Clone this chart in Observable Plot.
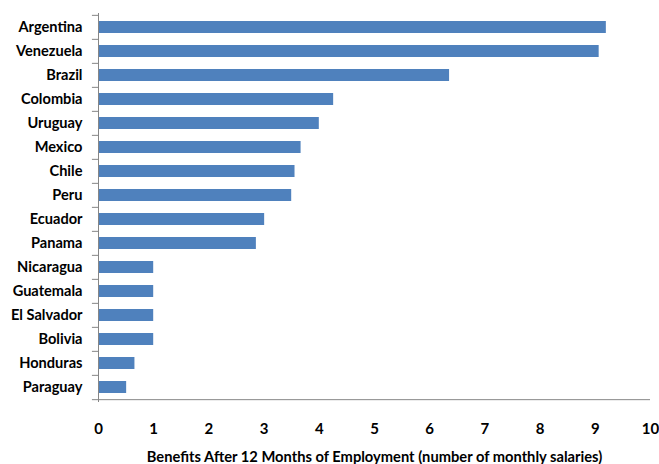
<!DOCTYPE html>
<html>
<head>
<meta charset="utf-8">
<script src="https://cdn.jsdelivr.net/npm/d3@7"></script>
<script src="https://cdn.jsdelivr.net/npm/@observablehq/plot@0.6"></script>
<style>
  html, body { margin: 0; padding: 0; background: #fff; }
  #chart svg { display: block; }
</style>
</head>
<body>
<div id="chart"></div>
<script>
// Countries, top to bottom
const countries = [
  "Argentina", "Venezuela", "Brazil", "Colombia", "Uruguay", "Mexico",
  "Chile", "Peru", "Ecuador", "Panama", "Nicaragua", "Guatemala",
  "El Salvador", "Bolivia", "Honduras", "Paraguay"
];
// Benefits after 12 months of employment, in monthly salaries
const benefits = [
  9.2, 9.07, 6.36, 4.26, 4.0, 3.67,
  3.56, 3.5, 3.01, 2.86, 1.0, 1.0,
  1.0, 1.0, 0.66, 0.51
];
const xTicks = [0, 1, 2, 3, 4, 5, 6, 7, 8, 9, 10];
const xLabel = "Benefits After 12 Months of Employment (number of monthly salaries)";

const data = countries.map((c, i) => ({country: c, value: benefits[i]}));

const W = 659, H = 464;
const mt = 13, mb = 62, ml = 98, mr = 9;
const step = (H - mt - mb) / countries.length;
const axisColor = "#868686";
const font = "Lato, 'Liberation Sans', Arial, sans-serif";

const chart = Plot.plot({
  width: W,
  height: H,
  marginTop: mt,
  marginBottom: mb,
  marginLeft: ml,
  marginRight: mr,
  style: {fontFamily: font, fontWeight: "bold", fontSize: "14px", color: "#000", background: "#fff"},
  x: {domain: [0, 10], ticks: xTicks, label: null},
  y: {domain: countries, paddingInner: 0.49, paddingOuter: 0.245, label: null},
  marks: [
    Plot.barX(data, {x: "value", y: "country", fill: "#4F81BD"}),
    // value axis
    Plot.ruleY([0], {y: () => countries[countries.length - 1], x1: 0, x2: 10, dy: step / 2, stroke: axisColor}),
    Plot.ruleX(xTicks, {x: d => d, y: () => countries[countries.length - 1], dy: step / 2 + 2.5, inset: 0, stroke: axisColor}),
    Plot.axisX({ticks: xTicks, tickSize: 0, tickPadding: 21, fontSize: 15, fontWeight: "bold", label: null, anchor: "bottom"}),
    // category axis with ticks at band boundaries
    Plot.ruleX([0], {stroke: axisColor}),
    Plot.ruleY(countries, {y: d => d, x1: 0, x2: -0.11, dy: -step / 2, stroke: axisColor}),
    Plot.ruleY([countries[countries.length - 1]], {y: d => d, x1: 0, x2: -0.11, dy: step / 2, stroke: axisColor}),
    Plot.axisY({tickSize: 0, tickPadding: 16, fontSize: 14.6, fontWeight: "bold", label: null}),
    Plot.text([xLabel], {frameAnchor: "bottom", dy: 59, fontSize: 14.7, fontWeight: "bold", text: d => d})
  ]
});

document.getElementById("chart").appendChild(chart);
</script>
</body>
</html>
